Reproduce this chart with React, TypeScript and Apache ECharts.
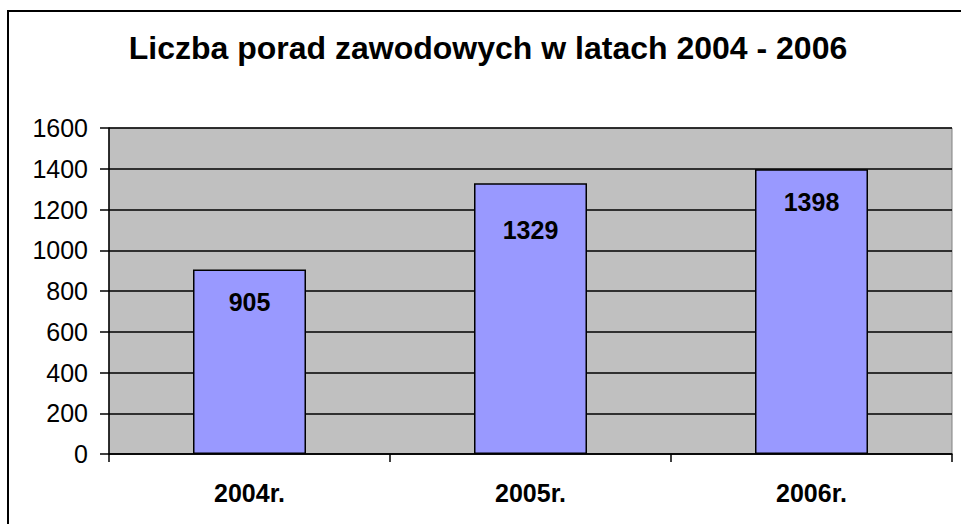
import React, { useEffect, useRef } from "react";
import * as echarts from "echarts";

const TITLE = "Liczba porad zawodowych w latach 2004 - 2006";
const categories = ["2004r.", "2005r.", "2006r."];
const values = [905, 1329, 1398];
const labelDistances = [20, 34, 20];
const yTicks = { min: 0, max: 1600, interval: 200 };

const FONT = "'Liberation Sans', Arial, Helvetica, sans-serif";

export default function App() {
  const ref = useRef<HTMLDivElement>(null);
  useEffect(() => {
    if (!ref.current) return;
    const chart = echarts.init(ref.current, null, { renderer: "svg" });
    chart.setOption({
      animation: false,
      backgroundColor: "#ffffff",
      textStyle: { fontFamily: FONT, color: "#000" },
      graphic: [
        {
          type: "text",
          x: 488,
          y: 48,
          style: {
            text: TITLE,
            font: `bold 32px ${FONT}`,
            fill: "#000",
            textAlign: "center",
            textVerticalAlign: "middle",
          },
          silent: true,
        },
        {
          type: "rect",
          shape: { x: 8, y: 11, width: 1000, height: 600 },
          style: { fill: "none", stroke: "#000", lineWidth: 2 },
          silent: true,
          z: 100,
        },
      ],
      grid: {
        left: 109,
        top: 128,
        right: 9,
        bottom: 70,
        show: true,
        backgroundColor: "#C0C0C0",
        borderColor: "#808080",
        borderWidth: 1,
      },
      xAxis: {
        type: "category",
        data: categories,
        axisLine: { lineStyle: { color: "#000", width: 1.5 } },
        axisTick: { show: true, length: 8, lineStyle: { color: "#000", width: 1.5 } },
        axisLabel: {
          margin: 26,
          fontFamily: FONT,
          fontSize: 25,
          fontWeight: "bold",
          color: "#000",
        },
      },
      yAxis: {
        type: "value",
        min: yTicks.min,
        max: yTicks.max,
        interval: yTicks.interval,
        axisLine: { show: true, lineStyle: { color: "#000", width: 1.5 } },
        axisTick: { show: true, length: 9, lineStyle: { color: "#000", width: 1.5 } },
        splitLine: { show: true, lineStyle: { color: "#000", width: 1.5 } },
        axisLabel: {
          margin: 21,
          fontFamily: FONT,
          fontSize: 25,
          color: "#000",
          formatter: (v: number) => String(v),
        },
      },
      series: [
        {
          type: "bar",
          barWidth: 113,
          data: values.map((v, i) => ({
            value: v,
            label: { distance: labelDistances[i] },
          })),
          itemStyle: { color: "#9999FF", borderColor: "#000", borderWidth: 1.5 },
          label: {
            show: true,
            position: "insideTop",
            fontFamily: FONT,
            fontSize: 25,
            fontWeight: "bold",
            color: "#000",
          },
        },
      ],
    });
    return () => chart.dispose();
  }, []);
  return (
    <div
      ref={ref}
      style={{ position: "fixed", left: 0, top: 0, width: 961, height: 524 }}
    />
  );
}
